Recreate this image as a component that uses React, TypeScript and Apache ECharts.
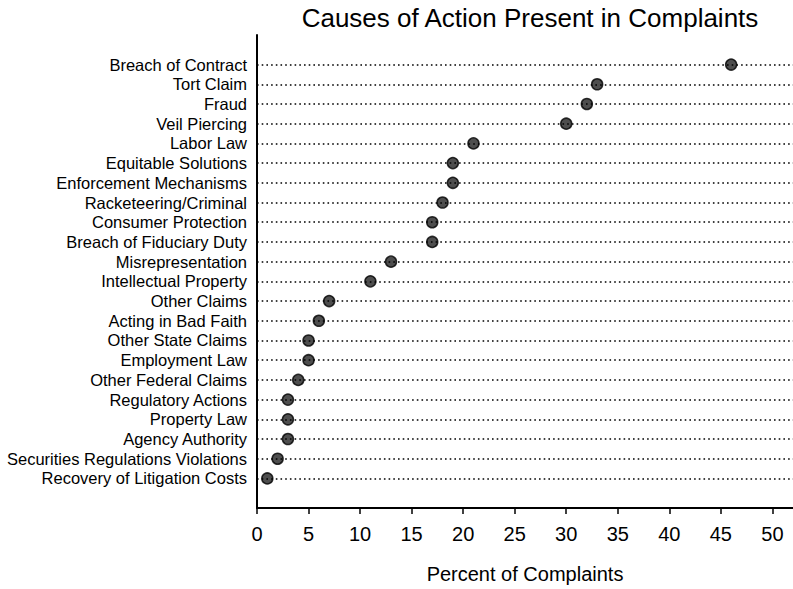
import React, { useEffect, useRef } from "react";
import * as echarts from "echarts";

const categories = [
  "Breach of Contract",
  "Tort Claim",
  "Fraud",
  "Veil Piercing",
  "Labor Law",
  "Equitable Solutions",
  "Enforcement Mechanisms",
  "Racketeering/Criminal",
  "Consumer Protection",
  "Breach of Fiduciary Duty",
  "Misrepresentation",
  "Intellectual Property",
  "Other Claims",
  "Acting in Bad Faith",
  "Other State Claims",
  "Employment Law",
  "Other Federal Claims",
  "Regulatory Actions",
  "Property Law",
  "Agency Authority",
  "Securities Regulations Violations",
  "Recovery of Litigation Costs",
];

const percents = [46, 33, 32, 30, 21, 19, 19, 18, 17, 17, 13, 11, 7, 6, 5, 5, 4, 3, 3, 3, 2, 1];

const xTicks = [0, 5, 10, 15, 20, 25, 30, 35, 40, 45, 50];

const FONT = "'Liberation Sans', Arial, Helvetica, sans-serif";

export default function App() {
  const ref = useRef<HTMLDivElement>(null);

  useEffect(() => {
    if (!ref.current) return;
    const chart = echarts.init(ref.current, null, { renderer: "svg" });
    const yData = ["", ...categories, ""];
    chart.setOption({
      animation: false,
      backgroundColor: "#ffffff",
      textStyle: { fontFamily: FONT },
      title: {
        text: "Causes of Action Present in Complaints",
        left: 525,
        top: 0,
        textAlign: "center",
        textStyle: { fontFamily: FONT, fontSize: 26, fontWeight: "normal", color: "#000" },
      },
      grid: { left: 257, right: 0, top: 35, bottom: 71, containLabel: false },
      xAxis: {
        type: "value",
        min: 0,
        max: 52,
        interval: 5,
        name: "Percent of Complaints",
        nameLocation: "middle",
        nameGap: 56,
        nameTextStyle: { fontFamily: FONT, fontSize: 20, color: "#000" },
        axisLine: { show: true, lineStyle: { color: "#000", width: 2 } },
        axisTick: {
          show: true,
          length: 6,
          lineStyle: { color: "#000", width: 1.5 },
          customValues: xTicks,
        },
        axisLabel: {
          fontFamily: FONT,
          fontSize: 20,
          color: "#000",
          margin: 16,
          customValues: xTicks,
        },
        splitLine: { show: false },
      },
      yAxis: {
        type: "category",
        inverse: true,
        data: yData,
        boundaryGap: true,
        axisLine: { show: true, lineStyle: { color: "#000", width: 2 } },
        axisTick: { show: false },
        axisLabel: {
          fontFamily: FONT,
          fontSize: 16.5,
          color: "#000",
          margin: 10,
          interval: 0,
        },
        splitLine: { show: false },
      },
      series: [
        {
          type: "scatter",
          name: "guides",
          data: [],
          z: 1,
          silent: true,
          markLine: {
            silent: true,
            symbol: ["none", "none"],
            label: { show: false },
            lineStyle: { color: "#000", width: 1.6, type: [1.6, 3.1], opacity: 1 },
            emphasis: { disabled: true },
            data: categories.map((c) => ({ yAxis: c })),
          },
        },
        {
          type: "scatter",
          name: "Percent",
          z: 3,
          symbol: "circle",
          symbolSize: 11,
          itemStyle: { color: "#222", borderColor: "#000", borderWidth: 1.5 },
          data: percents.map((v, i) => [v, categories[i]]),
        },
      ],
    });
    return () => chart.dispose();
  }, []);

  return (
    <div
      ref={ref}
      style={{ position: "fixed", left: 0, top: 0, width: 793, height: 589, background: "#fff" }}
    />
  );
}
